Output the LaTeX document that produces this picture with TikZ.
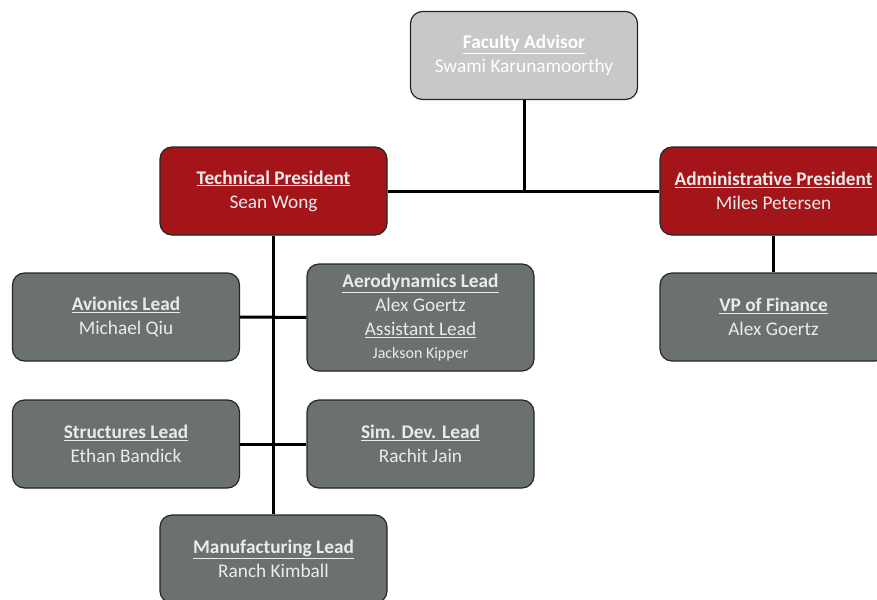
\documentclass[tikz,border=0pt]{standalone}
\usepackage{fontspec}
\setmainfont{Carlito}

\begin{document}
\begin{tikzpicture}[x=1pt,y=-1pt,
	box/.style={draw=black!85, line width=1.2pt, rounded corners=12pt,
		minimum width=227pt, minimum height=88pt, align=center,
		text=white!92!black, font=\fontsize{19.3}{24}\selectfont},
	link/.style={line width=3pt, black}]

	% ---- Adjustable colors ----
	\definecolor{advisorColor}{HTML}{C8C8C8}
	\definecolor{presColor}{HTML}{A31519}
	\definecolor{leadColor}{HTML}{6B716F}

	\useasboundingbox (0,0) rectangle (877,599);

	% ---- Advisor and presidents ----
	\node[box, fill=advisorColor, text=white] (advisor) at (524,55.5)
		{\textbf{\underline{Faculty Advisor}}\\Swami Karunamoorthy};
	\node[box, fill=presColor] (techPres) at (273.5,191)
		{\textbf{\underline{Technical President}}\\Sean Wong};
	\node[box, fill=presColor] (adminPres) at (773.5,191)
		{\textbf{\underline{Administrative President}}\\Miles Petersen};

	% ---- Leads ----
	\foreach \x/\y/\name/\title/\person in {
		126/317/avionics/Avionics Lead/Michael Qiu,
		126/444/structures/Structures Lead/Ethan Bandick,
		420.5/444/simDev/Sim. Dev. Lead/Rachit Jain,
		273.5/559/manuf/Manufacturing Lead/Ranch Kimball,
		773.5/317/vpFin/VP of Finance/Alex Goertz
	}
	{
		\node[box, fill=leadColor] (\name) at (\x,\y)
			{\textbf{\underline{\title}}\\\person};
	}
	\node[box, fill=leadColor, minimum height=107pt] (aero) at (420.5,317.5)
		{\textbf{\underline{Aerodynamics Lead}}\\Alex Goertz\\
		\underline{Assistant Lead}\\[-1pt]{\fontsize{16}{18}\selectfont Jackson Kipper}};

	% ---- Connectors ----
	\draw[link] (advisor.south) -- (advisor.south |- techPres.east);
	\draw[link] (techPres.east) -- (adminPres.west);
	\draw[link] (adminPres.south) -- (vpFin.north);
	\draw[link] (techPres.south) -- (manuf.north);
	\draw[link] (avionics.east) -- (aero.west);
	\draw[link] (structures.east) -- (simDev.west);

\end{tikzpicture}
\end{document}
